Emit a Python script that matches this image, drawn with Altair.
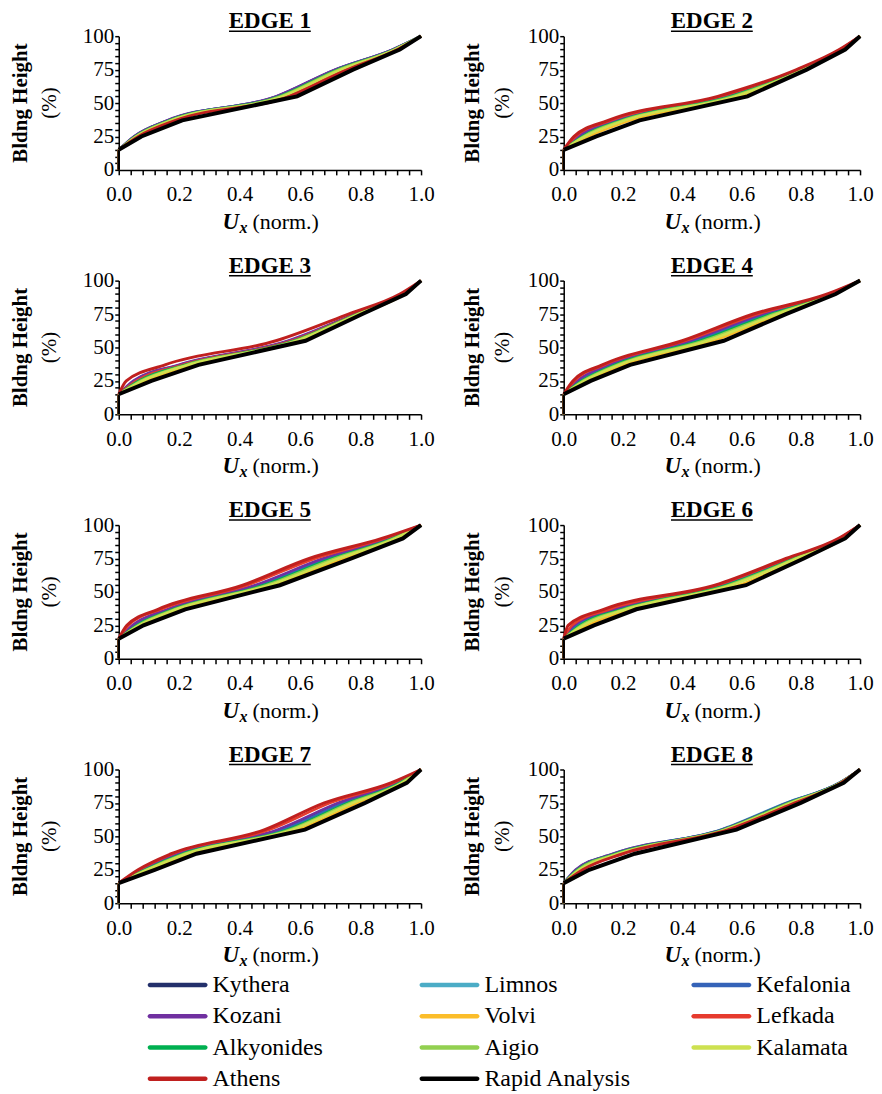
import altair as alt
import pandas as pd

SERIES = ["Kythera", "Limnos", "Kefalonia", "Kozani", "Volvi", "Lefkada",
          "Alkyonides", "Aigio", "Kalamata", "Athens", "Rapid Analysis"]
COLORS = ["#23306b", "#4bacc6", "#3563b8", "#7030a0", "#fbbd2a", "#e63b2e",
          "#00b050", "#92d050", "#cde150", "#c0201f", "#000000"]

# building height (%) levels at which the normalised displacement is read
HEIGHT_LEVELS = [15, 25, 37, 55, 75, 90, 100]
STEM_LEVELS = [0, 15]

EDGE_1 = {
    "Kythera":        [0, 0.051, 0.162, 0.522, 0.717, 0.906, 1.0],
    "Limnos":         [0, 0.053, 0.165, 0.526, 0.720, 0.908, 1.0],
    "Kefalonia":      [0, 0.052, 0.163, 0.524, 0.718, 0.907, 1.0],
    "Kozani":         [0, 0.050, 0.160, 0.520, 0.715, 0.905, 1.0],
    "Volvi":          [0, 0.060, 0.178, 0.548, 0.742, 0.916, 1.0],
    "Lefkada":        [0, 0.062, 0.182, 0.556, 0.750, 0.919, 1.0],
    "Alkyonides":     [0, 0.054, 0.167, 0.530, 0.724, 0.910, 1.0],
    "Aigio":          [0, 0.056, 0.170, 0.535, 0.728, 0.912, 1.0],
    "Kalamata":       [0, 0.058, 0.174, 0.542, 0.735, 0.914, 1.0],
    "Athens":         [0, 0.065, 0.188, 0.565, 0.757, 0.922, 1.0],
    "Rapid Analysis": [0, 0.075, 0.210, 0.590, 0.775, 0.930, 1.0],
}
EDGE_2 = {
    "Kythera":        [0, 0.052, 0.178, 0.545, 0.798, 0.935, 1.0],
    "Limnos":         [0, 0.058, 0.186, 0.555, 0.802, 0.937, 1.0],
    "Kefalonia":      [0, 0.055, 0.182, 0.550, 0.800, 0.936, 1.0],
    "Kozani":         [0, 0.048, 0.172, 0.540, 0.795, 0.934, 1.0],
    "Volvi":          [0, 0.085, 0.225, 0.595, 0.812, 0.943, 1.0],
    "Lefkada":        [0, 0.040, 0.160, 0.530, 0.790, 0.932, 1.0],
    "Alkyonides":     [0, 0.062, 0.192, 0.562, 0.805, 0.938, 1.0],
    "Aigio":          [0, 0.066, 0.198, 0.570, 0.808, 0.940, 1.0],
    "Kalamata":       [0, 0.072, 0.206, 0.580, 0.810, 0.941, 1.0],
    "Athens":         [0, 0.035, 0.150, 0.520, 0.786, 0.930, 1.0],
    "Rapid Analysis": [0, 0.110, 0.256, 0.620, 0.820, 0.950, 1.0],
}
EDGE_3 = {
    "Kythera":        [0, 0.052, 0.202, 0.565, 0.782, 0.939, 1.0],
    "Limnos":         [0, 0.062, 0.214, 0.576, 0.787, 0.941, 1.0],
    "Kefalonia":      [0, 0.055, 0.206, 0.568, 0.784, 0.940, 1.0],
    "Kozani":         [0, 0.048, 0.197, 0.560, 0.780, 0.938, 1.0],
    "Volvi":          [0, 0.090, 0.240, 0.600, 0.795, 0.945, 1.0],
    "Lefkada":        [0, 0.058, 0.210, 0.572, 0.785, 0.940, 1.0],
    "Alkyonides":     [0, 0.066, 0.218, 0.580, 0.788, 0.941, 1.0],
    "Aigio":          [0, 0.072, 0.224, 0.585, 0.790, 0.942, 1.0],
    "Kalamata":       [0, 0.078, 0.230, 0.590, 0.792, 0.943, 1.0],
    "Athens":         [0, 0.025, 0.153, 0.520, 0.760, 0.930, 1.0],
    "Rapid Analysis": [0, 0.108, 0.264, 0.618, 0.806, 0.950, 1.0],
}
EDGE_4 = {
    "Kythera":        [0, 0.050, 0.156, 0.435, 0.680, 0.903, 1.0],
    "Limnos":         [0, 0.056, 0.165, 0.450, 0.692, 0.906, 1.0],
    "Kefalonia":      [0, 0.053, 0.160, 0.442, 0.686, 0.905, 1.0],
    "Kozani":         [0, 0.045, 0.150, 0.425, 0.670, 0.900, 1.0],
    "Volvi":          [0, 0.078, 0.200, 0.505, 0.732, 0.914, 1.0],
    "Lefkada":        [0, 0.036, 0.138, 0.410, 0.655, 0.895, 1.0],
    "Alkyonides":     [0, 0.060, 0.172, 0.460, 0.700, 0.908, 1.0],
    "Aigio":          [0, 0.065, 0.180, 0.472, 0.710, 0.910, 1.0],
    "Kalamata":       [0, 0.070, 0.188, 0.485, 0.720, 0.912, 1.0],
    "Athens":         [0, 0.031, 0.130, 0.400, 0.640, 0.890, 1.0],
    "Rapid Analysis": [0, 0.091, 0.224, 0.540, 0.750, 0.918, 1.0],
}
EDGE_5 = {
    "Kythera":        [0, 0.050, 0.166, 0.458, 0.684, 0.896, 1.0],
    "Limnos":         [0, 0.056, 0.174, 0.470, 0.696, 0.902, 1.0],
    "Kefalonia":      [0, 0.053, 0.170, 0.464, 0.690, 0.899, 1.0],
    "Kozani":         [0, 0.045, 0.160, 0.450, 0.675, 0.892, 1.0],
    "Volvi":          [0, 0.074, 0.202, 0.512, 0.742, 0.922, 1.0],
    "Lefkada":        [0, 0.032, 0.140, 0.425, 0.650, 0.880, 1.0],
    "Alkyonides":     [0, 0.060, 0.180, 0.478, 0.705, 0.906, 1.0],
    "Aigio":          [0, 0.064, 0.186, 0.488, 0.715, 0.910, 1.0],
    "Kalamata":       [0, 0.068, 0.192, 0.498, 0.727, 0.915, 1.0],
    "Athens":         [0, 0.027, 0.130, 0.410, 0.630, 0.870, 1.0],
    "Rapid Analysis": [0, 0.082, 0.220, 0.533, 0.770, 0.940, 1.0],
}
EDGE_6 = {
    "Kythera":        [0, 0.040, 0.178, 0.530, 0.766, 0.933, 1.0],
    "Limnos":         [0, 0.048, 0.190, 0.540, 0.774, 0.935, 1.0],
    "Kefalonia":      [0, 0.044, 0.184, 0.535, 0.770, 0.934, 1.0],
    "Kozani":         [0, 0.035, 0.170, 0.525, 0.762, 0.932, 1.0],
    "Volvi":          [0, 0.080, 0.225, 0.590, 0.800, 0.944, 1.0],
    "Lefkada":        [0, 0.028, 0.155, 0.518, 0.756, 0.930, 1.0],
    "Alkyonides":     [0, 0.054, 0.198, 0.548, 0.778, 0.936, 1.0],
    "Aigio":          [0, 0.060, 0.205, 0.556, 0.782, 0.938, 1.0],
    "Kalamata":       [0, 0.066, 0.212, 0.565, 0.787, 0.940, 1.0],
    "Athens":         [0, 0.015, 0.135, 0.510, 0.750, 0.928, 1.0],
    "Rapid Analysis": [0, 0.102, 0.245, 0.615, 0.810, 0.950, 1.0],
}
EDGE_7 = {
    "Kythera":        [0, 0.076, 0.196, 0.535, 0.735, 0.920, 1.0],
    "Limnos":         [0, 0.082, 0.205, 0.550, 0.750, 0.926, 1.0],
    "Kefalonia":      [0, 0.079, 0.200, 0.542, 0.742, 0.923, 1.0],
    "Kozani":         [0, 0.072, 0.190, 0.525, 0.725, 0.915, 1.0],
    "Volvi":          [0, 0.102, 0.235, 0.592, 0.790, 0.943, 1.0],
    "Lefkada":        [0, 0.068, 0.180, 0.500, 0.700, 0.908, 1.0],
    "Alkyonides":     [0, 0.086, 0.212, 0.558, 0.758, 0.930, 1.0],
    "Aigio":          [0, 0.090, 0.218, 0.566, 0.766, 0.934, 1.0],
    "Kalamata":       [0, 0.095, 0.225, 0.575, 0.775, 0.938, 1.0],
    "Athens":         [0, 0.064, 0.174, 0.483, 0.680, 0.900, 1.0],
    "Rapid Analysis": [0, 0.119, 0.257, 0.616, 0.815, 0.953, 1.0],
}
EDGE_8 = {
    "Kythera":        [0, 0.044, 0.172, 0.536, 0.756, 0.931, 1.0],
    "Limnos":         [0, 0.042, 0.168, 0.530, 0.750, 0.930, 1.0],
    "Kefalonia":      [0, 0.043, 0.170, 0.533, 0.753, 0.931, 1.0],
    "Kozani":         [0, 0.040, 0.166, 0.534, 0.756, 0.930, 1.0],
    "Volvi":          [0, 0.057, 0.192, 0.552, 0.774, 0.935, 1.0],
    "Lefkada":        [0, 0.060, 0.196, 0.554, 0.777, 0.936, 1.0],
    "Alkyonides":     [0, 0.046, 0.175, 0.538, 0.758, 0.932, 1.0],
    "Aigio":          [0, 0.049, 0.180, 0.542, 0.762, 0.933, 1.0],
    "Kalamata":       [0, 0.053, 0.186, 0.546, 0.768, 0.934, 1.0],
    "Athens":         [0, 0.064, 0.200, 0.556, 0.780, 0.937, 1.0],
    "Rapid Analysis": [0, 0.086, 0.240, 0.583, 0.800, 0.945, 1.0],
}
EDGES = [EDGE_1, EDGE_2, EDGE_3, EDGE_4, EDGE_5, EDGE_6, EDGE_7, EDGE_8]
EDGE_TITLES = ["EDGE 1", "EDGE 2", "EDGE 3", "EDGE 4",
               "EDGE 5", "EDGE 6", "EDGE 7", "EDGE 8"]

# legend grid: 3 columns, filled row by row
LEGEND_COLS = [i % 3 for i in range(len(SERIES))]
LEGEND_ROWS = [i // 3 for i in range(len(SERIES))]

X_TICKS = [round(i * 0.04, 2) for i in range(26)]
Y_TICKS = list(range(0, 101, 5))

FONT = "Liberation Serif"
W_LEFT, W_RIGHT, H = 303, 297, 134

color = alt.Color("series:N", scale=alt.Scale(domain=SERIES, range=COLORS),
                  legend=None)


def xenc():
    return alt.X(
        "x:Q", scale=alt.Scale(domain=[0, 1], nice=False, zero=False),
        axis=alt.Axis(
            values=X_TICKS, title=None, grid=False, labelFlush=False,
            labelOverlap=False,
            labelExpr="abs(datum.value*5 - round(datum.value*5)) < 0.001 ? format(datum.value, '.1f') : ''",
            tickSize=5, labelPadding=9,
        ),
    )


def yenc():
    return alt.Y(
        "y:Q", scale=alt.Scale(domain=[0, 100], nice=False),
        axis=alt.Axis(
            values=Y_TICKS, title=None, grid=False, labelOverlap=False,
            labelExpr="datum.value % 25 === 0 ? format(datum.value, 'd') : ''",
            tickSize=4, labelPadding=1,
        ),
    )


def rows_for(edge, names, kind):
    rows = []
    for s in names:
        if kind == "curve":
            for y, x in zip(HEIGHT_LEVELS, edge[s]):
                rows.append({"series": s, "x": x, "y": y})
        else:
            for y in STEM_LEVELS:
                rows.append({"series": s, "x": edge[s][0], "y": y})
    return pd.DataFrame(rows)


def text_layer(txt, x, y, size, weight="normal", style="normal", angle=0,
               align="center", baseline="alphabetic"):
    return alt.Chart(pd.DataFrame({"t": [txt]})).mark_text(
        font=FONT, fontSize=size, fontWeight=weight, fontStyle=style,
        angle=angle, align=align, baseline=baseline, color="black",
    ).encode(text="t:N", x=alt.value(x), y=alt.value(y))


def legend_layer():
    df = pd.DataFrame({"series": SERIES, "col": LEGEND_COLS,
                       "row": LEGEND_ROWS})
    lx = alt.X("col:Q", scale=alt.Scale(domain=[0, 2], range=[59, 604]),
               axis=None)
    ly = alt.Y("row:Q", scale=alt.Scale(domain=[0, 3], range=[216, 310]),
               axis=None)
    sym = alt.Chart(df).mark_tick(
        orient="horizontal", size=60, thickness=4.5, cornerRadius=2.2,
        opacity=1,
    ).encode(x=lx, y=ly, color=color)
    lab = alt.Chart(df).mark_text(
        font=FONT, fontSize=24, align="left", baseline="middle", dx=35,
        color="black",
    ).encode(x=lx, y=ly, text="series:N")
    return alt.layer(sym, lab)


def panel(i):
    edge = EDGES[i]
    col = i % 2
    W = W_LEFT if col == 0 else W_RIGHT
    c = W / 2
    others = [s for s in SERIES if s not in ("Athens", "Rapid Analysis")]
    stem = alt.Chart(rows_for(edge, SERIES, "stem")).mark_line(
        strokeWidth=2.5).encode(x=xenc(), y=yenc(), color=color, order="y:Q")
    base = alt.Chart(rows_for(edge, others, "curve")).mark_line(
        strokeWidth=2.5, interpolate="monotone").encode(
        x=xenc(), y=yenc(), color=color, order="y:Q")
    ath = alt.Chart(rows_for(edge, ["Athens"], "curve")).mark_line(
        strokeWidth=3, interpolate="monotone").encode(
        x=xenc(), y=yenc(), color=color, order="y:Q")
    rap = alt.Chart(rows_for(edge, ["Rapid Analysis"], "curve")).mark_line(
        strokeWidth=4).encode(x=xenc(), y=yenc(), color=color, order="y:Q")

    title = text_layer(EDGE_TITLES[i], c, -8, 23, weight="bold")
    underline = alt.Chart(pd.DataFrame({"t": [EDGE_TITLES[i]]})).mark_rule(
        color="black", strokeWidth=1.5).encode(
        x=alt.value(c - 41), x2=alt.value(c + 41), y=alt.value(-5))
    yt1x, yt2x = (-98, -69) if col == 0 else (-91, -61)
    ytitle1 = text_layer("Bldng Height", yt1x, H / 2, 21, weight="bold",
                         angle=270, baseline="middle")
    ytitle2 = text_layer("(%)", yt2x, H / 2, 21, angle=270, baseline="middle")
    xt_u = text_layer("U", c - 47.5, 193, 23, weight="bold", style="italic",
                      align="left")
    xt_x = text_layer("x", c - 30.5, 197, 16, weight="bold", style="italic",
                      align="left")
    xt_n = text_layer("(norm.)", c - 17.5, 193, 22, align="left")

    core = alt.layer(stem, base, ath, rap, title, underline, ytitle1,
                     ytitle2, xt_u, xt_x, xt_n)
    if i == 6:
        return alt.layer(core, legend_layer()).resolve_scale(
            x="independent", y="independent").properties(width=W, height=H)
    return core.properties(width=W, height=H)


chart = alt.concat(
    *[panel(i) for i in range(8)], columns=2,
    spacing={"row": 111, "column": 143}, bounds="flush",
).properties(
    padding={"left": 2, "top": 1, "right": 0, "bottom": 0}
).configure_view(
    stroke=None
).configure_axis(
    domainColor="black", domainWidth=1.5, tickColor="black", tickWidth=1.5,
    labelFont=FONT, labelFontSize=21, labelColor="black",
)

chart.save("out.html", embed_options={"renderer": "svg", "actions": False})
